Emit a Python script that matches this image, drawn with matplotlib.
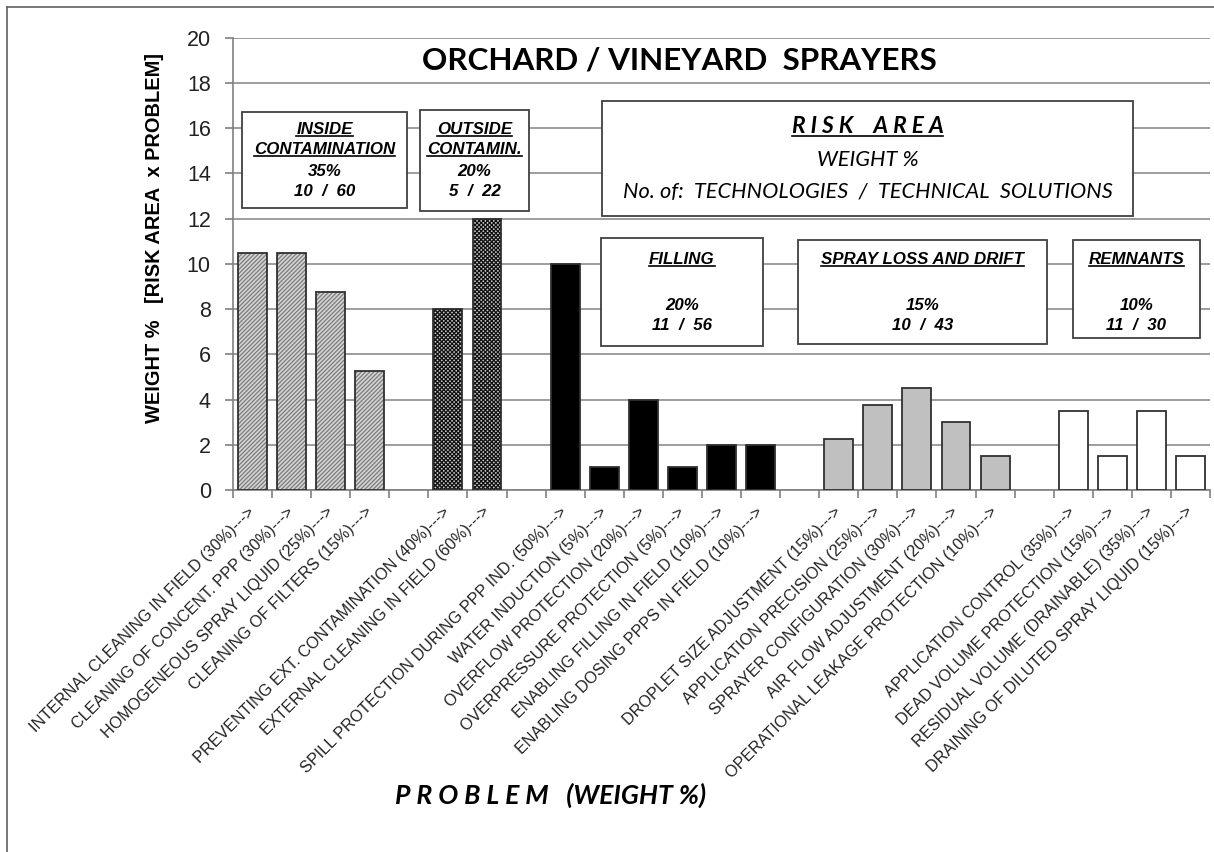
import numpy as np
import matplotlib.pyplot as plt
from matplotlib.patches import Rectangle
from matplotlib.lines import Line2D

# problem labels and weights per risk area (bar value = area weight x problem weight)
inside_labels = ["INTERNAL CLEANING IN FIELD (30%)--->",
                 "CLEANING OF CONCENT. PPP (30%)--->",
                 "HOMOGENEOUS SPRAY LIQUID (25%)--->",
                 "CLEANING OF FILTERS (15%)--->"]
inside_vals = [10.5, 10.5, 8.75, 5.25]

outside_labels = ["PREVENTING EXT. CONTAMINATION (40%)--->",
                  "EXTERNAL CLEANING IN FIELD (60%)--->"]
outside_vals = [8, 12]

filling_labels = ["SPILL PROTECTION DURING PPP IND. (50%)--->",
                  "WATER INDUCTION (5%)--->",
                  "OVERFLOW PROTECTION (20%)--->",
                  "OVERPRESSURE PROTECTION (5%)--->",
                  "ENABLING FILLING IN FIELD (10%)--->",
                  "ENABLING DOSING PPPS IN FIELD (10%)--->"]
filling_vals = [10, 1, 4, 1, 2, 2]

drift_labels = ["DROPLET SIZE ADJUSTMENT (15%)--->",
                "APPLICATION PRECISION (25%)--->",
                "SPRAYER CONFIGURATION (30%)--->",
                "AIR FLOW ADJUSTMENT (20%)--->",
                "OPERATIONAL LEAKAGE PROTECTION (10%)--->"]
drift_vals = [2.25, 3.75, 4.5, 3, 1.5]

remnant_labels = ["APPLICATION CONTROL (35%)--->",
                  "DEAD VOLUME PROTECTION (15%)--->",
                  "RESIDUAL VOLUME (DRAINABLE) (35%)--->",
                  "DRAINING OF DILUTED SPRAY LIQUID (15%)--->"]
remnant_vals = [3.5, 1.5, 3.5, 1.5]

W, H = 1214, 852
fig = plt.figure(figsize=(W / 100, H / 100), dpi=100)
ax = fig.add_axes([233 / W, (H - 490) / H, (1210 - 233) / W, (490 - 37.7) / H])

AR = "Liberation Sans"
CAL = "Lato"

groups = [
    (inside_labels, inside_vals, dict(facecolor="#d4d4d4", hatch="////////", hcol="#7c7c7c")),
    (outside_labels, outside_vals, dict(facecolor="#c8c8c8", hatch="xxxxxxxx", hcol="#101010")),
    (filling_labels, filling_vals, dict(facecolor="black", hatch=None, hcol="black")),
    (drift_labels, drift_vals, dict(facecolor="#c0c0c0", hatch=None, hcol="#c0c0c0")),
    (remnant_labels, remnant_vals, dict(facecolor="white", hatch=None, hcol="white")),
]

plt.rcParams["hatch.linewidth"] = 0.9
pos = 0
all_pos, all_labels = [], []
for labels, vals, st in groups:
    x = np.arange(pos, pos + len(vals))
    ax.bar(x, vals, width=0.74, color=st["facecolor"], hatch=st["hatch"],
           edgecolor=st["hcol"], linewidth=0, zorder=3)
    ax.bar(x, vals, width=0.74, fill=False, edgecolor="#303030", linewidth=1.3, zorder=4)
    all_pos += list(x)
    all_labels += labels
    pos += len(vals) + 1
n_slots = pos - 1

ax.set_xlim(-0.5, n_slots - 0.5)
ax.set_ylim(0, 20)
ax.set_yticks(np.arange(0, 21, 2))
ax.yaxis.grid(True, color="#8c8c8c", linewidth=1.2, zorder=0)
ax.set_axisbelow(True)
for s in ["top", "right"]:
    ax.spines[s].set_visible(False)
for s in ["left", "bottom"]:
    ax.spines[s].set_color("#808080")
    ax.spines[s].set_linewidth(1.2)

ax.set_xticks(np.arange(-0.5, n_slots, 1.0))
ax.set_xticklabels([])
ax.tick_params(axis="x", which="major", length=6, color="#808080", width=1.2)
ax.set_xticks(all_pos, minor=True)
ax.set_xticklabels(all_labels, minor=True, rotation=45, ha="right",
                   rotation_mode="anchor", fontsize=11.6, family=AR, color="#222222")
ax.tick_params(axis="x", which="minor", length=0, pad=14)
for t in ax.get_xticklabels(minor=True):
    t.set_va("center")

ax.tick_params(axis="y", length=6, color="#808080", width=1.2, pad=10)
ax.set_yticklabels([str(v) for v in range(0, 21, 2)], fontsize=15.5, family=AR,
                   color="#222222")

ax.set_ylabel("WEIGHT %   [RISK AREA  x PROBLEM]", fontsize=14.4, fontweight="bold",
              family=AR)
ax.yaxis.set_label_coords(-0.071, 0.557)

ax.text(10.93, 18.98, "ORCHARD / VINEYARD  SPRAYERS", ha="center", va="center",
        fontsize=22.6, fontweight="bold", family=CAL, zorder=6)

fig.text(551 / W, 1 - 795 / H, "P R O B L E M   (WEIGHT %)", ha="center", va="center",
         fontsize=19.2, fontweight="bold", style="italic", family=CAL)

# boxes
def px_x(p):
    return (p - 233) / 39.08 - 0.5

def px_y(p):
    return (490 - p) / 22.615

underlined = []

def box(x0, x1, y0, y1, lines):
    ax.add_patch(Rectangle((px_x(x0), px_y(y1)), px_x(x1) - px_x(x0), px_y(y0) - px_y(y1),
                           facecolor="white", edgecolor="#404040", linewidth=1.3,
                           zorder=7, clip_on=False))
    xc = px_x((x0 + x1) / 2)
    for ypix, txt, kw, ul in lines:
        t = ax.text(xc, px_y(ypix), txt, ha="center", va="center", zorder=8, **kw)
        if ul:
            underlined.append(t)

hd = dict(fontsize=12.2, fontweight="bold", style="italic", family=AR)
box(242, 407, 112, 208, [(130, "INSIDE", hd, True), (150, "CONTAMINATION", hd, True),
                         (172, "35%", hd, False), (192, "10  /  60", hd, False)])
box(420, 529, 110, 211, [(130, "OUTSIDE", hd, True), (150, "CONTAMIN.", hd, True),
                         (172, "20%", hd, False), (192, "5  /  22", hd, False)])
box(602, 1133, 101, 216, [
    (127, "R I S K    A R E A", dict(fontsize=16.4, fontweight="bold", style="italic", family=CAL), True),
    (160, "WEIGHT %", dict(fontsize=15.7, style="italic", family=CAL), False),
    (192, "No. of:  TECHNOLOGIES  /  TECHNICAL  SOLUTIONS", dict(fontsize=15.7, style="italic", family=CAL), False)])
box(601, 763, 238, 346, [(260, "FILLING", hd, True), (305, "20%", hd, False), (325, "11  /  56", hd, False)])
box(798, 1047, 240, 344, [(260, "SPRAY LOSS AND DRIFT", hd, True), (305, "15%", hd, False), (325, "10  /  43", hd, False)])
box(1073, 1200, 240, 338, [(260, "REMNANTS", hd, True), (305, "10%", hd, False), (325, "11  /  30", hd, False)])

fig.canvas.draw()
for t in underlined:
    bb = t.get_window_extent()
    yy = (bb.y0 + 1) / H
    fig.add_artist(Line2D([bb.x0 / W, bb.x1 / W], [yy, yy], color="black",
                          linewidth=1.2, zorder=9))

# outer frame
fig.add_artist(Line2D([7 / W, 7 / W], [0, 1 - 7 / H], color="#606060", linewidth=1.2))
fig.add_artist(Line2D([7 / W, 1], [1 - 7 / H, 1 - 7 / H], color="#606060", linewidth=1.2))

fig.savefig("out.png", dpi=100)
